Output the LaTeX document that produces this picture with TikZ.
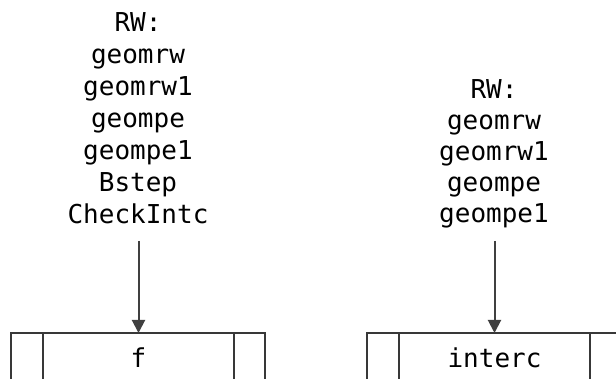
\documentclass[tikz,border=0pt]{standalone}
\usepackage{fontspec}
\setmonofont{DejaVu Sans Mono}
\usetikzlibrary{arrows.meta}
\begin{document}
\begin{tikzpicture}[x=1pt,y=-1pt,
  lbl/.style={font=\ttfamily\fontsize{26}{32}\selectfont, align=center, inner sep=0pt, text=black},
  cell/.style={draw=black!78, line width=2pt, minimum height=50pt, inner sep=0pt, outer sep=0pt,
    anchor=north west, font=\ttfamily\fontsize{26}{31}\selectfont},
  arr/.style={draw=black!75, line width=2pt, -{Triangle[width=13pt,length=13pt]}}]
\useasboundingbox (0,0) rectangle (616,379);
% left group
\node[lbl, anchor=base] (rwL) at (138,224) {RW:\\geomrw\\geomrw1\\geompe\\geompe1\\Bstep\\CheckIntc};
\node[cell, minimum width=32pt] (la) at (11,333) {};
\node[cell, minimum width=191pt] (lb) at (la.north east) {f};
\node[cell, minimum width=31pt] (lc) at (lb.north east) {};
\coordinate (sL) at (138.5,241);
\draw[arr] (sL) -- (lb.north);
% right group
\node[lbl, anchor=base, font=\ttfamily\fontsize{26}{31}\selectfont] (rwR) at (494,223) {RW:\\geomrw\\geomrw1\\geompe\\geompe1};
\node[cell, minimum width=32pt] (ra) at (367,333) {};
\node[cell, minimum width=191pt] (rb) at (ra.north east) {interc};
\node[cell, minimum width=31pt] (rc) at (rb.north east) {};
\coordinate (sR) at (494.5,241);
\draw[arr] (sR) -- (rb.north);
\end{tikzpicture}
\end{document}
